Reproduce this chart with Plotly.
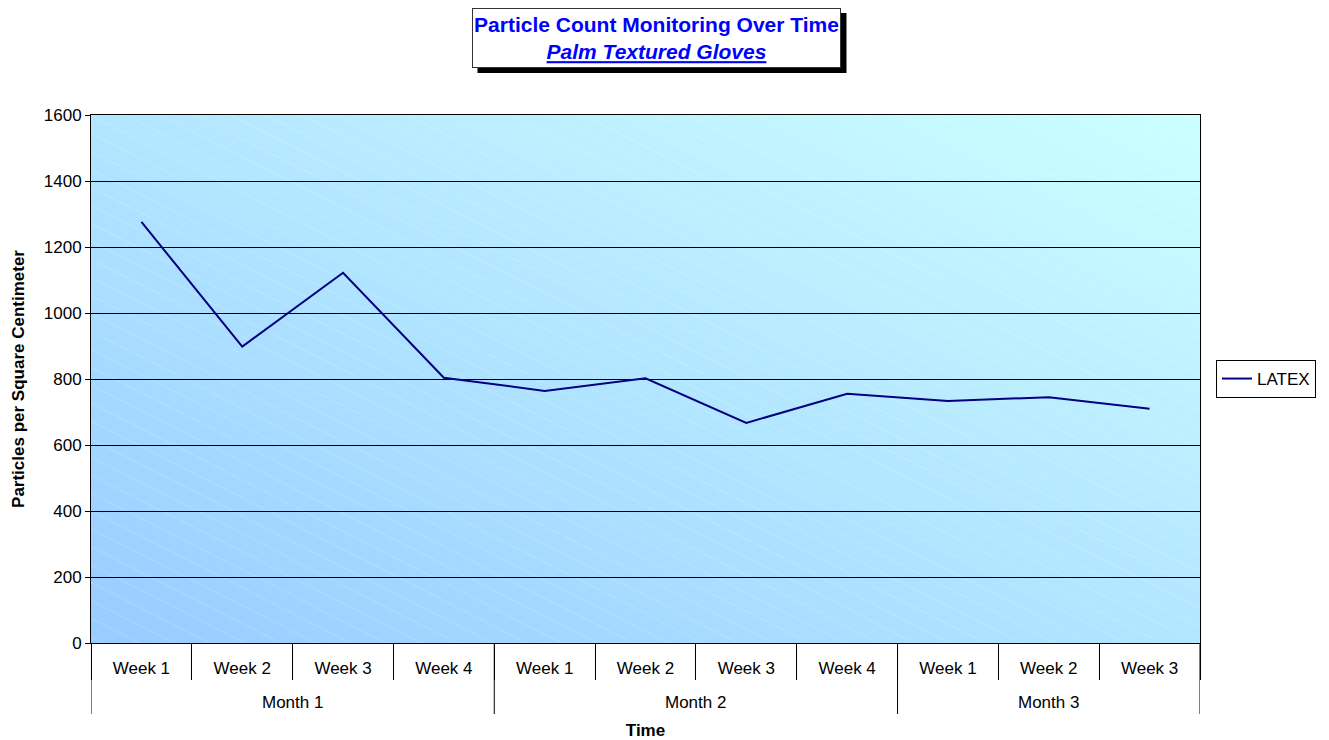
import base64
import plotly.graph_objects as go

months = ["Month 1"] * 4 + ["Month 2"] * 4 + ["Month 3"] * 3
weeks = ["Week 1", "Week 2", "Week 3", "Week 4",
         "Week 1", "Week 2", "Week 3", "Week 4",
         "Week 1", "Week 2", "Week 3"]
latex = [1276, 898, 1122, 804, 764, 802, 667, 755, 733, 745, 710]
y_ticks = [0, 200, 400, 600, 800, 1000, 1200, 1400, 1600]

FONT = "Liberation Sans, Arial, sans-serif"
xs = list(range(len(weeks)))

# month groups derived from the category lists
groups = []
for i, m in enumerate(months):
    if not groups or groups[-1][0] != m:
        groups.append([m, i, i])
    else:
        groups[-1][2] = i

W, H = 1109, 528
svg = f'''<svg xmlns="http://www.w3.org/2000/svg" width="{W}" height="{H}" viewBox="0 0 {W} {H}" preserveAspectRatio="none">
<defs>
<linearGradient id="g" x1="0" y1="1" x2="1" y2="0">
<stop offset="0" stop-color="#99CCFF"/>
<stop offset="1" stop-color="#CCFFFF"/>
</linearGradient>
<pattern id="p" width="16" height="16" patternUnits="userSpaceOnUse" patternTransform="rotate(27)">
<line x1="0" y1="0" x2="16" y2="0" stroke="white" stroke-opacity="0.4" stroke-width="0.8"/>
</pattern>
</defs>
<rect width="{W}" height="{H}" fill="url(#g)"/>
<rect width="{W}" height="{H}" fill="url(#p)"/>
</svg>'''
src = "data:image/svg+xml;base64," + base64.b64encode(svg.encode()).decode()

fig = go.Figure()
fig.add_trace(go.Scatter(
    x=xs, y=latex, mode="lines", name="LATEX",
    line=dict(color="#000080", width=2),
))

fig.update_layout(
    width=1329, height=740,
    margin=dict(l=91, r=129, t=115, b=97, autoexpand=False),
    paper_bgcolor="white",
    plot_bgcolor="rgba(0,0,0,0)",
    font=dict(family=FONT, size=17, color="black"),
    showlegend=True,
    legend=dict(x=1.0144, y=0.5, xanchor="left", yanchor="middle",
                bgcolor="white", bordercolor="black", borderwidth=1,
                font=dict(size=17, family=FONT), itemwidth=30,
                tracegroupgap=0),
    images=[dict(source=src, xref="x domain", yref="y domain", x=0, y=1,
                 sizex=1, sizey=1, sizing="stretch", layer="below",
                 xanchor="left", yanchor="top")],
)

fig.update_yaxes(
    range=[0, 1600], tickvals=y_ticks, showgrid=True, gridcolor="black",
    gridwidth=1, showline=True, linecolor="black", linewidth=1, mirror=True,
    ticks="outside", ticklen=5, tickcolor="black", zeroline=False,
    tickfont=dict(size=17),
    title=dict(text="<b>Particles per Square Centimeter</b>",
               font=dict(size=17, family=FONT), standoff=14),
)
fig.update_xaxes(
    range=[-0.5, len(weeks) - 0.5], tickvals=xs, ticktext=weeks,
    showline=True, linecolor="black", linewidth=1, mirror=True,
    ticks="", showgrid=False, zeroline=False, tickfont=dict(size=17),
    ticklabelstandoff=10,
    minor=dict(tick0=0.5, dtick=1, ticks="outside", ticklen=36,
               tickcolor="black", tickwidth=1, showgrid=False),
    title=dict(text="<b>Time</b>", font=dict(size=17, family=FONT), standoff=48),
)

# month group dividers and labels
bounds = [groups[0][1] - 0.5] + [g[2] + 0.5 for g in groups]
for b in bounds:
    fig.add_shape(type="line", xref="x", yref="paper", ysizemode="pixel",
                  yanchor=0, x0=b, x1=b, y0=-71, y1=0,
                  line=dict(color="black", width=1))
for name, a, z in groups:
    fig.add_annotation(x=(a + z) / 2, xref="x", yref="paper", y=0, yshift=-59,
                       yanchor="middle", text=name, showarrow=False,
                       font=dict(size=17, family=FONT, color="black"))

# Title box with shadow
cx = (656.5 - 91) / 1109
cy = (643 - 38) / 528
fig.add_shape(type="rect", xref="paper", yref="paper", xsizemode="pixel",
              ysizemode="pixel", xanchor=cx, yanchor=cy,
              x0=-184 + 5, x1=185 + 5, y0=-30 - 5, y1=30 - 5,
              fillcolor="black", line=dict(width=0), layer="above")
fig.add_annotation(
    xref="paper", yref="paper", x=cx, y=cy, xanchor="center", yanchor="middle",
    text="<b>Particle Count Monitoring Over Time</b><br><b><i><u>Palm Textured Gloves</u></i></b>",
    showarrow=False, font=dict(size=21, color="#0000FF", family=FONT),
    bgcolor="white", bordercolor="#333333", borderwidth=1,
    width=367, height=58, align="center", borderpad=0,
)

fig.write_html("out.html", config={"displayModeBar": False},
               post_script="document.body.style.margin='0';document.body.style.padding='0';")
